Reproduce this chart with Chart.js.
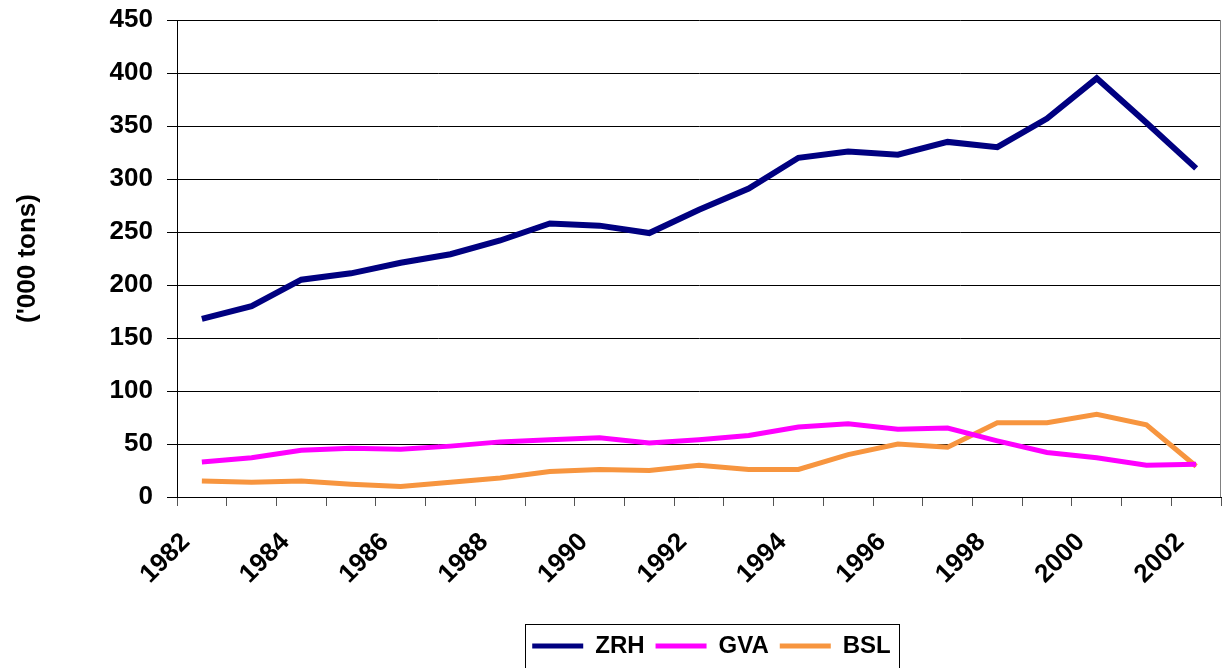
<!DOCTYPE html>
<html>
<head>
<meta charset="utf-8">
<script src="https://cdn.jsdelivr.net/npm/chart.js@4.4.1/dist/chart.umd.min.js"></script>
<style>
  html, body { margin: 0; padding: 0; background: #fff; }
  #wrap { width: 1223px; height: 668px; }
</style>
</head>
<body>
<div id="wrap"><canvas id="freightChart" width="1223" height="668"></canvas></div>
<script>
// years on the category axis
const years = ['1982', '1983', '1984', '1985', '1986', '1987', '1988', '1989', '1990', '1991', '1992',
    '1993', '1994', '1995', '1996', '1997', '1998', '1999', '2000', '2001', '2002'];

// freight, '000 tons
const zrh = [168, 180, 205, 211, 221, 229, 242, 258, 256, 249, 271, 291, 320, 326, 323, 335, 330, 357, 395, 353, 310];
const gva = [33, 37, 44, 46, 45, 48, 52, 54, 56, 51, 54, 58, 66, 69, 64, 65, 53, 42, 37, 30, 31];
const bsl = [15, 14, 15, 12, 10, 14, 18, 24, 26, 25, 30, 26, 26, 40, 50, 47, 70, 70, 78, 68, 29];

const yTicks = { min: 0, max: 450, step: 50 };

const FONT = "'Liberation Sans', Arial, sans-serif";

document.addEventListener("DOMContentLoaded", function () {
    const ctx = document.getElementById("freightChart");

    // legend sits right of centre in the original, with a thin box round it;
    // the plot area has a grey right edge
    const frame = {
        id: 'frame',
        afterLayout(chart) {
            const lg = chart.legend;
            if (lg && !lg._shifted) {
                lg.left += 101;
                lg.right += 101;
                lg._shifted = true;
            }
        },
        afterDraw(chart) {
            const c = chart.ctx;
            const area = chart.chartArea;
            c.save();
            c.strokeStyle = '#808080';
            c.lineWidth = 1;
            c.beginPath();
            c.moveTo(Math.round(area.right) - 0.5, area.top);
            c.lineTo(Math.round(area.right) - 0.5, area.bottom);
            c.stroke();

            const boxes = chart.legend.legendHitBoxes;
            if (boxes && boxes.length) {
                const left = boxes[0].left - 7;
                const last = boxes[boxes.length - 1];
                const right = last.left + last.width + 8;
                const mid = boxes[0].top + boxes[0].height / 2;
                c.strokeStyle = '#000';
                c.strokeRect(Math.round(left) + 0.5, Math.round(mid - 22) + 0.5, Math.round(right - left), 44);
            }
            c.restore();
        }
    };

    new Chart(ctx, {
        type: 'line',
        data: {
            labels: years,
            datasets: [
                { label: 'ZRH', data: zrh, borderColor: '#000080', backgroundColor: '#000080', borderWidth: 6 },
                { label: 'GVA', data: gva, borderColor: '#ff00ff', backgroundColor: '#ff00ff', borderWidth: 5 },
                { label: 'BSL', data: bsl, borderColor: '#f7953f', backgroundColor: '#f7953f', borderWidth: 5 }
            ]
        },
        options: {
            responsive: false,
            animation: false,
            layout: { padding: { top: 20, right: 2, left: 0, bottom: 0 } },
            elements: {
                point: { radius: 0, hoverRadius: 0 },
                line: { tension: 0, borderCapStyle: 'butt' }
            },
            plugins: {
                tooltip: { enabled: false },
                legend: {
                    position: 'bottom',
                    labels: {
                        boxWidth: 51,
                        boxHeight: 5,
                        padding: 11,
                        color: '#000',
                        font: { family: FONT, size: 24, weight: 'bold' },
                        generateLabels: function (chart) {
                            return Chart.defaults.plugins.legend.labels.generateLabels(chart)
                                .map(item => Object.assign(item, { fillStyle: item.strokeStyle, lineWidth: 0 }));
                        }
                    }
                }
            },
            scales: {
                x: {
                    offset: true,
                    grid: {
                        offset: true,
                        drawOnChartArea: false,
                        drawTicks: true,
                        tickLength: 9,
                        color: '#555'
                    },
                    border: { color: '#000', width: 1 },
                    ticks: {
                        autoSkip: false,
                        maxRotation: 45,
                        minRotation: 45,
                        padding: 21,
                        labelOffset: -16,
                        color: '#000',
                        font: { family: FONT, size: 26, weight: 'bold' },
                        callback: function (value, index) {
                            return index % 2 === 0 ? years[index] : '';
                        }
                    },
                    afterFit: function (scale) {
                        const legendH = scale.chart.legend ? scale.chart.legend.height : 0;
                        scale.height = scale.chart.height - 497 - legendH;
                        scale.paddingLeft = 0;
                        scale.paddingRight = 0;
                    }
                },
                y: {
                    min: yTicks.min,
                    max: yTicks.max,
                    grid: { color: '#000', lineWidth: 1, tickLength: 10 },
                    border: { color: '#000', width: 1 },
                    ticks: {
                        stepSize: yTicks.step,
                        padding: 14,
                        color: '#000',
                        font: { family: FONT, size: 26, weight: 'bold' }
                    },
                    title: {
                        display: true,
                        text: "('000 tons)",
                        color: '#000',
                        font: { family: FONT, size: 26, weight: 'bold' },
                        padding: { top: 12, bottom: 0 }
                    },
                    afterFit: function (scale) {
                        scale.width = 177;
                        scale.paddingTop = 0;
                        scale.paddingBottom = 0;
                    }
                }
            }
        },
        plugins: [frame]
    });
});
</script>
</body>
</html>
